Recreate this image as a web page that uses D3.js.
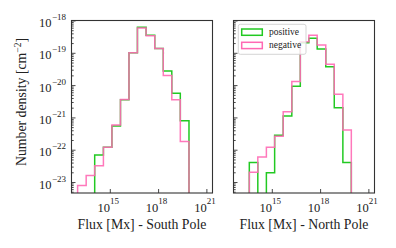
<!DOCTYPE html>
<html><head><meta charset="utf-8">
<script src="https://cdn.jsdelivr.net/npm/d3@7"></script>
<style>body{margin:0;background:#fff;} svg{display:block;} svg text{font-family:"Liberation Serif","DejaVu Serif",serif;}</style>
</head><body>
<svg id="c" width="396" height="248"></svg>
<script>
// ---- data ----
const panelTitles = ["Flux [Mx] - South Pole", "Flux [Mx] - North Pole"];
const seriesNames = ["positive", "negative"];
const xTickExps = [15, 18, 21];
const yTickExps = [-18, -19, -20, -21, -22, -23];
// bin edges (Mx)
const southEdges = [1.0e13, 3.4e13, 1.15e14, 4.0e14, 1.35e15, 4.6e15, 1.55e16, 5.2e16, 1.8e17, 6.2e17, 2.1e18, 7.1e18, 2.4e19, 8.3e19];
const northEdges = [4.0e13, 1.35e14, 4.6e14, 1.5e15, 5.1e15, 1.75e16, 5.9e16, 2.0e17, 6.6e17, 2.25e18, 7.6e18, 2.6e19, 8.7e19];
// number densities (cm^-2), 0 = empty bin
const southPositive = [0, 0, 6.9e-23, 1.2e-22, 5.4e-22, 3.5e-21, 1.0e-19, 6.2e-19, 3.5e-19, 1.35e-19, 2.75e-20, 5.6e-21, 7.9e-22];
const southNegative = [7.8e-24, 1.6e-23, 3.2e-23, 1.2e-22, 5.8e-22, 3.6e-21, 1.0e-19, 5.9e-19, 3.4e-19, 1.35e-19, 2.0e-20, 3.5e-21, 1.8e-22];
const northPositive = [4.0e-23, 0, 1.95e-23, 2.8e-22, 1.1e-21, 9.3e-21, 2.05e-19, 2.8e-19, 1.3e-19, 3.7e-20, 2.0e-21, 4.0e-23];
const northNegative = [2.0e-23, 6.0e-23, 1.2e-22, 2.6e-22, 1.5e-21, 1.3e-20, 2.2e-19, 3.5e-19, 1.75e-19, 4.4e-20, 5.2e-21, 4.1e-22];

const colors = {positive: "#22c922", negative: "#ff69b4"};
const svg = d3.select("#c");

const yTop = 20.5, yBot = 193;
const y = d3.scaleLog().domain([Math.pow(10, -23.34), 1e-18]).range([yBot, yTop]);

const panels = [
  {x0: 71.5, x1: 212.5, edges: southEdges, pos: southPositive, neg: southNegative, title: panelTitles[0], ylabels: true, legend: false},
  {x0: 233.5, x1: 374.5, edges: northEdges, pos: northPositive, neg: northNegative, title: panelTitles[1], ylabels: false, legend: true}
];

panels.forEach((p, pi) => {
  const x = d3.scaleLog().domain([Math.pow(10, 12.62), Math.pow(10, 21.38)]).range([p.x0, p.x1]);
  const g = svg.append("g");
  const clipId = "clip" + pi;
  svg.append("clipPath").attr("id", clipId).append("rect")
    .attr("x", p.x0).attr("y", yTop).attr("width", p.x1 - p.x0).attr("height", yBot - yTop);

  const line = d3.line().x(d => d[0]).y(d => d[1]);
  function stepPts(vals) {
    const pts = [[x(p.edges[0]), yBot + 3]];
    vals.forEach((v, i) => {
      const yy = v > 0 ? y(v) : yBot + 3;
      pts.push([x(p.edges[i]), yy]);
      pts.push([x(p.edges[i + 1]), yy]);
    });
    pts.push([x(p.edges[p.edges.length - 1]), yBot + 3]);
    return pts;
  }
  const hg = g.append("g").attr("clip-path", `url(#${clipId})`);
  hg.append("path").attr("d", line(stepPts(p.pos))).attr("fill", "none")
    .attr("stroke", colors.positive).attr("stroke-width", 1.5);
  hg.append("path").attr("d", line(stepPts(p.neg))).attr("fill", "none")
    .attr("stroke", colors.negative).attr("stroke-width", 1.5).attr("stroke-opacity", 0.9);

  // y ticks
  const majors = yTickExps.map(e => Math.pow(10, e));
  const minors = y.ticks().filter(v => {
    const m = v / Math.pow(10, Math.floor(Math.log10(v) + 1e-9));
    return Math.abs(m - 1) > 1e-6;
  });
  const ya1 = g.append("g").attr("transform", `translate(${p.x0},0)`)
    .call(d3.axisLeft(y).tickValues(minors).tickSize(-2.2).tickFormat(""));
  const ya2 = g.append("g").attr("transform", `translate(${p.x0},0)`)
    .call(d3.axisLeft(y).tickValues(majors).tickSize(-4).tickFormat(""));
  const xa = g.append("g").attr("transform", `translate(0,${yBot})`)
    .call(d3.axisBottom(x).tickValues(xTickExps.map(e => Math.pow(10, e))).tickSize(-4).tickFormat(""));
  [ya1, ya2, xa].forEach(a => {
    a.select(".domain").remove();
    a.selectAll("line").attr("stroke", "#333").attr("stroke-width", 0.9);
  });

  // frame
  g.append("rect").attr("x", p.x0).attr("y", yTop).attr("width", p.x1 - p.x0).attr("height", yBot - yTop)
    .attr("fill", "none").attr("stroke", "#333").attr("stroke-width", 1.1);

  // x tick labels
  xTickExps.forEach(e => {
    const t = g.append("text").attr("x", x(Math.pow(10, e)) - 1.5).attr("y", 211.7)
      .attr("text-anchor", "middle").attr("font-size", 12.5).attr("fill", "#222");
    t.append("tspan").text("10");
    t.append("tspan").attr("dy", -8).attr("font-size", 9).text(String(e));
  });
  // y tick labels
  if (p.ylabels) {
    yTickExps.forEach(e => {
      const t = g.append("text").attr("x", p.x0 - 5.5).attr("y", y(Math.pow(10, e)) + 6.6)
        .attr("text-anchor", "end").attr("font-size", 12.5).attr("fill", "#222");
      t.append("tspan").text("10");
      t.append("tspan").attr("dx", 0.5).attr("dy", -7).attr("font-size", 9).text("\u2212" + String(-e));
    });
  }
  // x label
  g.append("text").attr("x", (p.x0 + p.x1) / 2).attr("y", 229.3).attr("text-anchor", "middle")
    .attr("font-size", 13.8).attr("fill", "#222").text(p.title);

  if (p.legend) {
    const lg = g.append("g");
    lg.append("rect").attr("x", 238.3).attr("y", 24.3).attr("width", 67.7).attr("height", 30)
      .attr("rx", 2).attr("fill", "#fff").attr("fill-opacity", 0.8).attr("stroke", "#d0d0d0").attr("stroke-width", 0.9);
    seriesNames.forEach((s, i) => {
      const yy = 29 + i * 13.3;
      lg.append("rect").attr("x", 241.7).attr("y", yy).attr("width", 20.6).attr("height", 6.3)
        .attr("fill", "none").attr("stroke", colors[s]).attr("stroke-width", 1.5);
      lg.append("text").attr("x", 269).attr("y", yy + 5.6)
        .attr("font-size", 9.5).attr("fill", "#222").text(s);
    });
  }
});

// y label
svg.append("text").attr("transform", "translate(26,102) rotate(-90)").attr("text-anchor", "middle")
  .attr("font-size", 13.8).attr("fill", "#222")
  .call(t => {
    t.append("tspan").text("Number density [cm");
    t.append("tspan").attr("dy", -5.5).attr("font-size", 9.5).text("\u22122");
    t.append("tspan").attr("dy", 5.5).text("]");
  });
</script>
</body></html>
